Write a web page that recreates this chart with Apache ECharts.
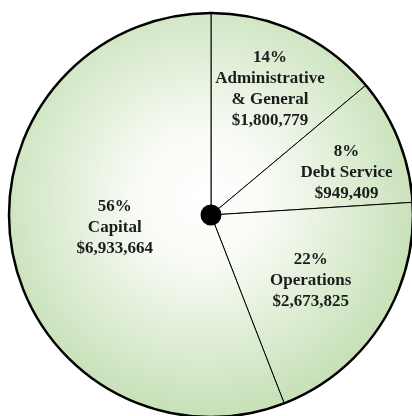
<!DOCTYPE html>
<html>
<head>
<meta charset="utf-8">
<style>
  html, body { margin: 0; padding: 0; background: #ffffff; }
  #chart { width: 412px; height: 416px; }
</style>
<script src="https://cdn.jsdelivr.net/npm/echarts@6/dist/echarts.min.js"></script>
</head>
<body>
<div id="chart"></div>
<script>
// budget categories, clockwise from 12 o'clock
const categories = ['Administrative\n& General', 'Debt Service', 'Operations', 'Capital'];
const amounts = [1800779, 949409, 2673825, 6933664];
const percentLabels = ['14%', '8%', '22%', '56%'];
// share of the disc each wedge takes as drawn in the picture (%)
const sliceShares = [13.9, 10.1, 20.1, 55.9];

// label nudges away from the slice midpoint (layout only)
const labelOffsets = [[15, -32], [39, -4], [12, 10], [6, -7]];

const CX = 211, CY = 215, R = 202;

const fmtMoney = v => '$' + v.toString().replace(/\B(?=(\d{3})+(?!\d))/g, ',');

const chart = echarts.init(document.getElementById('chart'), null, { renderer: 'canvas' });

// one gradient for the whole disc, not per slice
const discFill = {
    type: 'radial',
    x: CX - 8, y: CY - 18, r: R + 20,
    global: true,
    colorStops: [
        { offset: 0, color: '#ffffff' },
        { offset: 0.3, color: '#f8fbf5' },
        { offset: 1, color: '#c6e0b6' }
    ]
};

const option = {
    backgroundColor: '#ffffff',
    animation: false,
    series: [
        {
            type: 'pie',
            center: [CX, CY],
            radius: [0, R],
            startAngle: 90,
            clockwise: true,
            silent: true,
            itemStyle: {
                color: discFill,
                borderColor: '#000000',
                borderWidth: 1
            },
            label: {
                show: true,
                position: 'inside',
                fontFamily: '"Liberation Serif", "DejaVu Serif", serif',
                fontWeight: 'bold',
                fontSize: 17,
                lineHeight: 21,
                color: '#1c1c1c',
                align: 'center',
                formatter: p => percentLabels[p.dataIndex] + '\n' + p.name + '\n' + fmtMoney(amounts[p.dataIndex])
            },
            labelLine: { show: false },
            data: categories.map((name, i) => ({
                name: name,
                value: sliceShares[i],
                label: { offset: labelOffsets[i] }
            }))
        },
        {
            // outer rim
            type: 'pie',
            center: [CX, CY],
            radius: [0, R],
            silent: true,
            label: { show: false },
            labelLine: { show: false },
            itemStyle: { color: 'rgba(0,0,0,0)', borderColor: '#000000', borderWidth: 2.5 },
            data: [{ value: 1, name: 'rim' }]
        },
        {
            // hub dot
            type: 'pie',
            center: [CX, CY],
            radius: [0, 10.5],
            silent: true,
            label: { show: false },
            labelLine: { show: false },
            itemStyle: { color: '#000000' },
            data: [{ value: 1, name: 'hub' }]
        }
    ]
};

chart.setOption(option);
window.addEventListener('resize', () => chart.resize());
</script>
</body>
</html>
